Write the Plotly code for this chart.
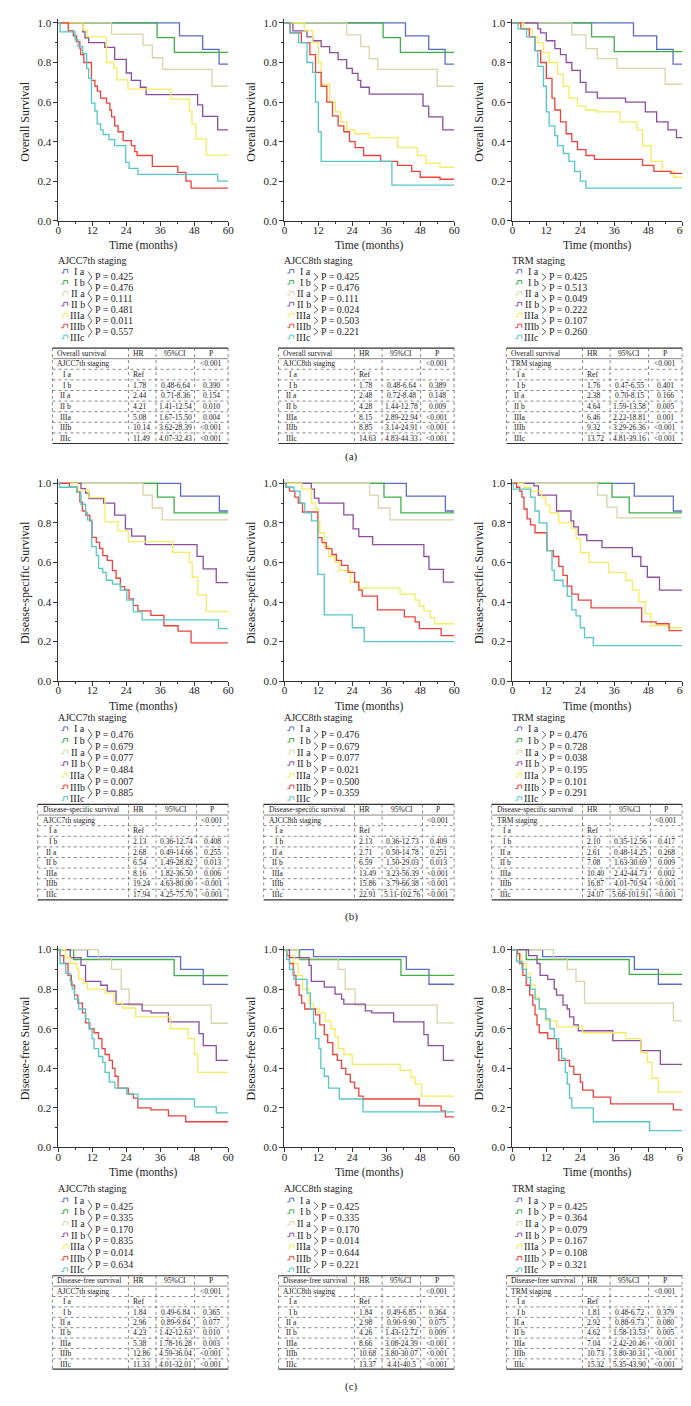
import plotly.graph_objects as go

W, H = 691, 1406
FONT = "Liberation Serif"
TXT = "#222222"

GROUPS = ["I a", "I b", "II a", "II b", "IIIa", "IIIb", "IIIc"]
COLORS = ["#5a6cc4", "#3fae46", "#d9d3a8", "#8b4d9c", "#f4ec5c", "#e8433c", "#55c6c6"]

# ---------------- survival curves: (event times, survival after each step) ----------------
OS_AJCC7 = [
    ([42.8, 51.0, 56.8], [0.935, 0.866, 0.792]),
    ([34.9, 41.0], [0.926, 0.851]),
    ([18.8, 29.9, 33.2, 36.9, 54.3], [0.943, 0.888, 0.824, 0.765, 0.68]),
    ([8.6, 9.4, 10.7, 16.4, 19.9, 24.0, 25.8, 29.0, 31.0, 49.2, 51.0, 56.3],
     [0.955, 0.925, 0.90, 0.876, 0.816, 0.747, 0.71, 0.675, 0.638, 0.586, 0.528, 0.46]),
    ([8.6, 10.2, 17.0, 19.6, 20.7, 24.6, 39.8, 46.3, 47.2, 48.6, 52.2],
     [0.965, 0.93, 0.80, 0.77, 0.712, 0.665, 0.615, 0.556, 0.489, 0.414, 0.332]),
    ([3.5, 5.3, 6.4, 7.6, 7.9, 9.0, 11.7, 12.9, 13.8, 14.9, 17.0, 18.2, 18.8, 19.9, 21.1, 22.9, 25.8, 27.0, 27.8, 33.2, 42.2, 45.1, 46.9],
     [0.96, 0.935, 0.905, 0.87, 0.84, 0.80, 0.71, 0.68, 0.655, 0.62, 0.595, 0.56, 0.525, 0.48, 0.45, 0.405, 0.38, 0.35, 0.33, 0.275, 0.245, 0.20, 0.165]),
    ([0.6, 5.9, 7.0, 8.6, 10.0, 10.7, 11.7, 12.9, 13.7, 14.9, 15.8, 17.9, 19.9, 23.8, 25.0, 28.1, 56.3],
     [0.955, 0.915, 0.88, 0.845, 0.77, 0.72, 0.595, 0.555, 0.49, 0.46, 0.435, 0.41, 0.38, 0.295, 0.265, 0.235, 0.20]),
]

OS_AJCC8 = [
    ([42.8, 51.0, 56.8], [0.935, 0.866, 0.792]),
    ([34.9, 41.0], [0.926, 0.851]),
    ([22.0, 27.0, 30.0, 33.0, 54.0], [0.94, 0.88, 0.82, 0.765, 0.68]),
    ([3.0, 8.0, 10.0, 13.0, 16.0, 19.0, 22.0, 24.0, 26.0, 27.0, 30.0, 49.0, 51.0, 56.0],
     [0.96, 0.93, 0.91, 0.88, 0.85, 0.815, 0.77, 0.745, 0.71, 0.675, 0.64, 0.58, 0.525, 0.46]),
    ([7, 10, 12, 13, 16, 18, 20, 22, 25, 30, 40, 47, 50, 55],
     [0.96, 0.90, 0.80, 0.69, 0.60, 0.55, 0.50, 0.46, 0.44, 0.42, 0.37, 0.33, 0.29, 0.27]),
    ([2, 6, 9, 11, 13, 15, 17, 19, 21, 23, 25, 28, 34, 40, 45, 48, 55],
     [0.95, 0.90, 0.84, 0.75, 0.68, 0.60, 0.53, 0.48, 0.45, 0.40, 0.37, 0.33, 0.30, 0.28, 0.25, 0.22, 0.21]),
    ([2, 5, 8, 10, 11, 12, 13, 38], [0.95, 0.90, 0.80, 0.75, 0.60, 0.45, 0.30, 0.18]),
]

OS_TRM = [
    ([42.8, 51.0, 56.8], [0.935, 0.866, 0.792]),
    ([28, 36], [0.93, 0.855]),
    ([21, 26, 30, 37, 54], [0.94, 0.87, 0.82, 0.77, 0.69]),
    ([9, 10, 12, 15, 17, 19, 21, 24, 26, 30, 40, 47, 51, 55, 58],
     [0.97, 0.95, 0.91, 0.87, 0.84, 0.80, 0.76, 0.70, 0.65, 0.62, 0.60, 0.55, 0.50, 0.46, 0.42]),
    ([4, 7, 9, 11, 13, 16, 18, 20, 23, 26, 30, 38, 44, 46, 49, 53, 57],
     [0.97, 0.93, 0.90, 0.85, 0.80, 0.74, 0.68, 0.62, 0.58, 0.56, 0.55, 0.50, 0.46, 0.38, 0.30, 0.25, 0.22]),
    ([3, 6, 8, 10, 12, 14, 15, 17, 19, 21, 23, 26, 29, 46, 50, 56],
     [0.97, 0.93, 0.86, 0.80, 0.72, 0.62, 0.56, 0.50, 0.44, 0.40, 0.36, 0.33, 0.31, 0.28, 0.25, 0.24]),
    ([2, 5, 8, 9, 11, 12, 13, 15, 16, 18, 20, 22, 24, 26],
     [0.97, 0.93, 0.86, 0.78, 0.68, 0.55, 0.48, 0.43, 0.38, 0.34, 0.30, 0.25, 0.20, 0.165]),
]

DSS_AJCC7 = [
    ([43.2, 56.9], [0.935, 0.86]),
    ([35.0, 40.9], [0.93, 0.85]),
    ([29.9, 33.2, 36.7], [0.94, 0.875, 0.815]),
    ([8.0, 9.6, 10.8, 16.0, 19.9, 23.7, 25.9, 30.7, 49.0, 51.2, 55.8],
     [0.973, 0.95, 0.923, 0.90, 0.839, 0.77, 0.733, 0.69, 0.631, 0.567, 0.498]),
    ([6.8, 10.8, 16.5, 21.1, 24.7, 40.4, 46.3, 47.3, 49.3, 52.3],
     [0.965, 0.928, 0.805, 0.76, 0.705, 0.651, 0.60, 0.525, 0.436, 0.351]),
    ([3.9, 6.5, 7.6, 8.5, 9.7, 11.1, 11.9, 13.4, 14.6, 15.7, 17.3, 19.1, 20.4, 21.9, 23.4, 25.0, 26.5, 28.1, 32.7, 37.3, 42.3, 46.9],
     [0.98, 0.955, 0.905, 0.86, 0.839, 0.81, 0.727, 0.701, 0.671, 0.634, 0.61, 0.559, 0.52, 0.478, 0.461, 0.416, 0.383, 0.355, 0.332, 0.28, 0.253, 0.193]),
    ([0.5, 6.5, 8.0, 9.6, 10.3, 11.8, 13.4, 14.2, 15.7, 16.9, 19.1, 21.9, 24.2, 26.5, 29.6, 56.6],
     [0.98, 0.955, 0.894, 0.85, 0.815, 0.68, 0.635, 0.57, 0.55, 0.51, 0.49, 0.46, 0.41, 0.35, 0.31, 0.265]),
]

DSS_AJCC8 = [
    ([43.1, 56.9], [0.935, 0.86]),
    ([35.2, 41.2], [0.93, 0.85]),
    ([30.1, 33.2, 37.3], [0.94, 0.875, 0.815]),
    ([9.5, 10.6, 12.2, 21.0, 24.3, 26.3, 31.2, 49.3, 51.1, 56.2],
     [0.97, 0.925, 0.90, 0.84, 0.77, 0.73, 0.69, 0.63, 0.565, 0.50]),
    ([6.1, 9.5, 11.0, 11.8, 12.5, 14.1, 15.6, 17.9, 19.4, 23.3, 26.3, 40.9, 46.2, 47.7, 49.3, 51.6, 53.1],
     [0.97, 0.90, 0.87, 0.81, 0.75, 0.68, 0.63, 0.60, 0.56, 0.50, 0.47, 0.44, 0.41, 0.38, 0.355, 0.32, 0.29]),
    ([0.6, 1.8, 3.7, 4.9, 6.4, 11.8, 13.3, 14.8, 16.8, 18.4, 20.2, 22.5, 24.8, 26.3, 27.5, 32.9, 42.4, 46.2, 47.7, 55.4],
     [0.98, 0.96, 0.93, 0.90, 0.855, 0.725, 0.70, 0.67, 0.64, 0.61, 0.585, 0.55, 0.50, 0.46, 0.43, 0.36, 0.325, 0.30, 0.265, 0.23]),
    ([0.6, 3.4, 5.5, 7.2, 9.6, 11.8, 14.1, 24.0, 28.2], [0.98, 0.96, 0.90, 0.85, 0.81, 0.54, 0.335, 0.27, 0.20]),
]

DSS_TRM = [
    ([43.1, 56.9], [0.935, 0.86]),
    ([35.2, 41.3], [0.93, 0.85]),
    ([30.1, 33.4, 37.0], [0.94, 0.88, 0.825]),
    ([7.6, 9.2, 15.6, 20.7, 21.7, 23.3, 26.3, 31.7, 42.4, 45.4, 47.7, 52.0],
     [0.987, 0.94, 0.86, 0.81, 0.78, 0.74, 0.71, 0.675, 0.63, 0.58, 0.525, 0.46]),
    ([4.1, 6.4, 10.3, 11.8, 13.3, 16.4, 21.0, 22.5, 24.0, 27.1, 34.0, 40.1, 42.4, 44.7, 47.0, 49.0, 55.4],
     [0.98, 0.96, 0.93, 0.89, 0.85, 0.80, 0.77, 0.72, 0.65, 0.60, 0.55, 0.51, 0.46, 0.40, 0.34, 0.28, 0.27]),
    ([1.5, 2.6, 3.4, 4.1, 5.2, 6.4, 8.0, 12.2, 14.5, 16.4, 17.9, 19.4, 21.0, 23.3, 27.8, 45.7, 50.8, 55.4],
     [0.98, 0.96, 0.93, 0.87, 0.82, 0.79, 0.75, 0.66, 0.63, 0.58, 0.535, 0.48, 0.44, 0.41, 0.37, 0.30, 0.29, 0.255]),
    ([0.3, 6.4, 8.0, 9.5, 12.2, 14.0, 14.8, 17.9, 19.4, 21.0, 22.5, 24.0, 25.5, 28.6],
     [0.97, 0.93, 0.86, 0.80, 0.66, 0.56, 0.51, 0.48, 0.43, 0.36, 0.33, 0.27, 0.22, 0.18]),
]

DFS_AJCC7 = [
    ([10.3, 43.2, 51.2], [0.965, 0.90, 0.824]),
    ([5.4, 40.9], [0.95, 0.869]),
    ([14.2, 18.8, 22.2, 25.0, 54.0], [0.955, 0.90, 0.80, 0.72, 0.628]),
    ([4.2, 8.0, 9.6, 15.0, 17.3, 20.4, 29.6, 32.7, 38.9, 49.7, 51.2, 55.8],
     [0.96, 0.92, 0.84, 0.82, 0.79, 0.725, 0.69, 0.68, 0.635, 0.575, 0.515, 0.44]),
    ([2.6, 4.2, 6.5, 7.2, 8.8, 10.3, 16.5, 19.6, 22.7, 27.3, 39.6, 45.8, 48.1, 49.3],
     [0.96, 0.93, 0.90, 0.85, 0.83, 0.80, 0.78, 0.73, 0.705, 0.66, 0.60, 0.55, 0.47, 0.38]),
    ([0.6, 1.9, 3.4, 4.6, 5.7, 6.9, 8.5, 9.6, 11.1, 12.6, 14.2, 15.4, 16.5, 18.0, 19.1, 20.0, 21.1, 24.7, 26.5, 28.1, 32.7, 38.9, 45.0],
     [0.97, 0.93, 0.87, 0.82, 0.77, 0.73, 0.68, 0.63, 0.60, 0.58, 0.55, 0.50, 0.47, 0.44, 0.40, 0.36, 0.30, 0.27, 0.25, 0.20, 0.19, 0.16, 0.13]),
    ([0.6, 2.6, 4.2, 4.9, 5.7, 7.2, 9.6, 10.8, 11.9, 12.6, 14.2, 15.7, 16.5, 18.0, 20.0, 24.2, 28.1, 48.1, 55.8],
     [0.93, 0.88, 0.84, 0.80, 0.75, 0.70, 0.65, 0.60, 0.55, 0.50, 0.46, 0.43, 0.38, 0.33, 0.30, 0.27, 0.245, 0.205, 0.175]),
]

DFS_AJCC8 = [
    ([10.3, 43.1, 51.1], [0.965, 0.90, 0.825]),
    ([5.4, 41.2], [0.95, 0.87]),
    ([5.0, 19.0, 21.5, 25.0, 54.0], [0.955, 0.90, 0.80, 0.72, 0.63]),
    ([1.8, 8.7, 9.5, 14.1, 17.9, 20.2, 21.0, 28.6, 30.9, 38.6, 49.3, 50.8, 56.2],
     [0.96, 0.92, 0.84, 0.81, 0.775, 0.75, 0.725, 0.69, 0.68, 0.635, 0.57, 0.515, 0.44]),
    ([1.1, 3.4, 4.9, 6.4, 8.7, 10.3, 12.2, 14.4, 16.4, 17.9, 19.0, 21.0, 24.0, 40.9, 44.7, 46.2, 48.5],
     [0.97, 0.93, 0.87, 0.80, 0.73, 0.70, 0.68, 0.64, 0.60, 0.56, 0.50, 0.47, 0.42, 0.39, 0.355, 0.32, 0.26]),
    ([0.8, 1.8, 3.1, 4.1, 5.2, 6.1, 7.2, 11.0, 12.5, 14.1, 15.3, 17.1, 18.7, 20.2, 21.7, 23.3, 24.8, 26.3, 27.8, 47.7, 55.4, 56.9],
     [0.97, 0.93, 0.87, 0.82, 0.77, 0.73, 0.70, 0.67, 0.62, 0.57, 0.53, 0.47, 0.44, 0.40, 0.37, 0.33, 0.30, 0.26, 0.245, 0.21, 0.185, 0.155]),
    ([0.8, 1.8, 3.4, 8.0, 9.2, 10.3, 11.0, 12.2, 12.9, 14.1, 15.6, 19.4, 27.8],
     [0.95, 0.90, 0.85, 0.78, 0.70, 0.63, 0.55, 0.50, 0.40, 0.36, 0.30, 0.245, 0.18]),
]

DFS_TRM = [
    ([10.7, 43.1, 51.6], [0.965, 0.90, 0.825]),
    ([4.9, 41.3], [0.95, 0.875]),
    ([14.5, 19.4, 22.5, 25.5, 56.9], [0.955, 0.90, 0.84, 0.73, 0.64]),
    ([5.7, 8.7, 9.8, 12.5, 14.8, 15.6, 17.9, 19.4, 20.2, 21.7, 23.3, 35.5, 45.4, 52.3],
     [0.97, 0.93, 0.87, 0.85, 0.80, 0.77, 0.72, 0.70, 0.66, 0.62, 0.59, 0.54, 0.49, 0.42]),
    ([1.8, 3.4, 4.9, 6.4, 8.0, 9.5, 11.8, 15.6, 24.8, 40.1, 45.4, 47.7, 49.3, 51.6],
     [0.97, 0.93, 0.88, 0.82, 0.76, 0.70, 0.64, 0.61, 0.58, 0.55, 0.48, 0.43, 0.35, 0.28]),
    ([1.8, 2.6, 3.7, 4.9, 6.1, 7.2, 8.0, 8.7, 9.5, 12.5, 15.6, 16.4, 20.2, 21.7, 24.0, 24.8, 28.6, 34.7, 56.9],
     [0.98, 0.93, 0.87, 0.82, 0.77, 0.72, 0.67, 0.62, 0.58, 0.55, 0.50, 0.44, 0.41, 0.37, 0.33, 0.29, 0.255, 0.22, 0.19]),
    ([1.5, 3.4, 4.9, 6.4, 8.0, 9.5, 11.8, 13.3, 14.8, 16.4, 17.4, 18.7, 19.4, 20.2, 21.0, 28.6, 48.5],
     [0.94, 0.90, 0.86, 0.80, 0.75, 0.70, 0.65, 0.60, 0.55, 0.50, 0.45, 0.38, 0.32, 0.25, 0.20, 0.13, 0.085]),
]

# ---------------- pairwise log-rank P values ----------------
P_OS_AJCC7 = ["0.425", "0.476", "0.111", "0.481", "0.011", "0.557"]
P_OS_AJCC8 = ["0.425", "0.476", "0.111", "0.024", "0.503", "0.221"]
P_OS_TRM = ["0.425", "0.513", "0.049", "0.222", "0.107", "0.260"]
P_DSS_AJCC7 = ["0.476", "0.679", "0.077", "0.484", "0.007", "0.885"]
P_DSS_AJCC8 = ["0.476", "0.679", "0.077", "0.021", "0.500", "0.359"]
P_DSS_TRM = ["0.476", "0.728", "0.038", "0.195", "0.101", "0.291"]
P_DFS_AJCC7 = ["0.425", "0.335", "0.170", "0.835", "0.014", "0.634"]
P_DFS_AJCC8 = ["0.425", "0.335", "0.170", "0.014", "0.644", "0.221"]
P_DFS_TRM = ["0.425", "0.364", "0.079", "0.167", "0.108", "0.321"]

# ---------------- Cox tables (I b .. IIIc) ----------------
HR_OS_AJCC7 = ["1.78", "2.44", "4.21", "5.08", "10.14", "11.49"]
CI_OS_AJCC7 = ["0.48-6.64", "0.71-8.36", "1.41-12.54", "1.67-15.50", "3.62-28.39", "4.07-32.43"]
PV_OS_AJCC7 = ["0.390", "0.154", "0.010", "0.004", "<0.001", "<0.001"]
HR_OS_AJCC8 = ["1.78", "2.48", "4.28", "8.15", "8.85", "14.63"]
CI_OS_AJCC8 = ["0.48-6.64", "0.72-8.48", "1.44-12.78", "2.89-22.94", "3.14-24.91", "4.83-44.33"]
PV_OS_AJCC8 = ["0.389", "0.148", "0.009", "<0.001", "<0.001", "<0.001"]
HR_OS_TRM = ["1.76", "2.38", "4.64", "6.46", "9.32", "13.72"]
CI_OS_TRM = ["0.47-6.55", "0.70-8.15", "1.59-13.58", "2.22-18.81", "3.29-26.36", "4.81-39.16"]
PV_OS_TRM = ["0.401", "0.166", "0.005", "0.001", "<0.001", "<0.001"]
HR_DSS_AJCC7 = ["2.13", "2.68", "6.54", "8.16", "19.24", "17.94"]
CI_DSS_AJCC7 = ["0.36-12.74", "0.49-14.66", "1.49-28.82", "1.82-36.50", "4.63-80.00", "4.25-75.70"]
PV_DSS_AJCC7 = ["0.408", "0.255", "0.013", "0.006", "<0.001", "<0.001"]
HR_DSS_AJCC8 = ["2.13", "2.71", "6.59", "13.49", "15.86", "22.91"]
CI_DSS_AJCC8 = ["0.36-12.73", "0.50-14.78", "1.50-29.03", "3.23-56.39", "3.79-66.38", "5.11-102.76"]
PV_DSS_AJCC8 = ["0.409", "0.251", "0.013", "<0.001", "<0.001", "<0.001"]
HR_DSS_TRM = ["2.10", "2.61", "7.08", "10.40", "16.87", "24.07"]
CI_DSS_TRM = ["0.35-12.56", "0.48-14.25", "1.63-30.69", "2.42-44.73", "4.01-70.94", "5.68-101.91"]
PV_DSS_TRM = ["0.417", "0.268", "0.009", "0.002", "<0.001", "<0.001"]
HR_DFS_AJCC7 = ["1.84", "2.96", "4.23", "5.38", "12.86", "11.33"]
CI_DFS_AJCC7 = ["0.49-6.84", "0.89-9.84", "1.42-12.63", "1.78-16.28", "4.59-36.04", "4.01-32.01"]
PV_DFS_AJCC7 = ["0.365", "0.077", "0.010", "0.003", "<0.001", "<0.001"]
HR_DFS_AJCC8 = ["1.84", "2.98", "4.26", "8.66", "10.68", "13.37"]
CI_DFS_AJCC8 = ["0.49-6.85", "0.90-9.90", "1.43-12.72", "3.08-24.39", "3.80-30.07", "4.41-40.5"]
PV_DFS_AJCC8 = ["0.364", "0.075", "0.009", "<0.001", "<0.001", "<0.001"]
HR_DFS_TRM = ["1.81", "2.92", "4.62", "7.04", "10.73", "15.32"]
CI_DFS_TRM = ["0.48-6.72", "0.88-9.73", "1.58-13.53", "2.42-20.46", "3.80-30.31", "5.35-43.90"]
PV_DFS_TRM = ["0.379", "0.080", "0.005", "<0.001", "<0.001", "<0.001"]

STAGINGS = ["AJCC7th staging", "AJCC8th staging", "TRM staging"]
OUTCOMES = ["Overall survival", "Disease-specific survival", "Disease-free survival"]
YTITLES = ["Overall Survival", "Disease-specific Survival", "Disease-free Survival"]
PANEL_LABELS = ["(a)", "(b)", "(c)"]

PANELS = [
    (OS_AJCC7, P_OS_AJCC7, HR_OS_AJCC7, CI_OS_AJCC7, PV_OS_AJCC7),
    (OS_AJCC8, P_OS_AJCC8, HR_OS_AJCC8, CI_OS_AJCC8, PV_OS_AJCC8),
    (OS_TRM, P_OS_TRM, HR_OS_TRM, CI_OS_TRM, PV_OS_TRM),
    (DSS_AJCC7, P_DSS_AJCC7, HR_DSS_AJCC7, CI_DSS_AJCC7, PV_DSS_AJCC7),
    (DSS_AJCC8, P_DSS_AJCC8, HR_DSS_AJCC8, CI_DSS_AJCC8, PV_DSS_AJCC8),
    (DSS_TRM, P_DSS_TRM, HR_DSS_TRM, CI_DSS_TRM, PV_DSS_TRM),
    (DFS_AJCC7, P_DFS_AJCC7, HR_DFS_AJCC7, CI_DFS_AJCC7, PV_DFS_AJCC7),
    (DFS_AJCC8, P_DFS_AJCC8, HR_DFS_AJCC8, CI_DFS_AJCC8, PV_DFS_AJCC8),
    (DFS_TRM, P_DFS_TRM, HR_DFS_TRM, CI_DFS_TRM, PV_DFS_TRM),
]

# ---------------- layout geometry (pixels) ----------------
COL_LEFT = [48, 277, 508]
PLOT_W = 172
ROW_TOP = [13, 476, 945]
PLOT_H = 199
YMAX = 1.02
LEG_TITLE_Y = [252, 712, 1185]
LEG_Y0 = [263, 723, 1197]
LEG_DY = [11.0, 11.7, 11.7]
TAB_TOP = [340, 799, 1273]
TAB_BOT = [436, 895, 1367]
TAB_LEFT_OFF = [-6, -21, -6]
TAB_PSEP_OFF = [138, 140, 138]
PANEL_LABEL_Y = [449, 912, 1384]
TAB_FONT = 7.6


def X(px):
    return px / W


def Y(py):
    return 1 - py / H


fig = go.Figure()
annotations = []
shapes = []
layout_axes = {}


def ann(text, px, py, size=10, xanchor="left", angle=0, color=TXT):
    annotations.append(dict(text=text, x=X(px), y=Y(py), xref="paper", yref="paper",
                            showarrow=False, xanchor=xanchor, yanchor="middle",
                            textangle=angle, font=dict(family=FONT, size=size, color=color)))


def line(x0, y0, x1, y1, dash="solid", width=0.8, color="#333333"):
    shapes.append(dict(type="line", xref="paper", yref="paper", x0=X(x0), y0=Y(y0), x1=X(x1), y1=Y(y1),
                       line=dict(color=color, width=width, dash=dash)))


def path(pts, color, width=1.0):
    d = "M " + " L ".join(f"{X(a):.5f},{Y(b):.5f}" for a, b in pts)
    shapes.append(dict(type="path", xref="paper", yref="paper", path=d,
                       line=dict(color=color, width=width)))


for idx, (curves, pairp, hrs, cis, pvs) in enumerate(PANELS):
    r, c = divmod(idx, 3)
    n = idx + 1
    xa = "x" if n == 1 else f"x{n}"
    ya = "y" if n == 1 else f"y{n}"
    L = COL_LEFT[c]
    top = ROW_TOP[r]
    bot = top + PLOT_H

    for g, (t, s) in enumerate(curves):
        xs = [0] + list(t) + [60]
        ys = [1.0] + list(s) + [s[-1]]
        fig.add_trace(go.Scatter(x=xs, y=ys, mode="lines", xaxis=xa, yaxis=ya,
                                 line=dict(color=COLORS[g], width=1.3, shape="hv"),
                                 showlegend=False, hoverinfo="skip"))

    tickfont = dict(family=FONT, size=11, color=TXT)
    layout_axes["xaxis" if n == 1 else f"xaxis{n}"] = dict(
        domain=[X(L), X(L + PLOT_W)], range=[0, 60], anchor=ya,
        tickmode="linear", tick0=0, dtick=12, ticks="outside", ticklen=4, tickwidth=1, tickcolor="#333",
        ticklabelstandoff=-5,
        minor=dict(tick0=0, dtick=6, ticks="outside", ticklen=2, tickwidth=1, tickcolor="#333"),
        showline=True, linecolor="#333", linewidth=1, showgrid=False, zeroline=False,
        tickfont=tickfont, fixedrange=True)
    layout_axes["yaxis" if n == 1 else f"yaxis{n}"] = dict(
        domain=[Y(bot), Y(bot - PLOT_H * YMAX)], range=[0, YMAX], anchor=xa,
        tickmode="array", tickvals=[0, 0.2, 0.4, 0.6, 0.8, 1.0],
        ticktext=["0.0", "0.2", "0.4", "0.6", "0.8", "1.0"],
        ticks="outside", ticklen=4, tickwidth=1, tickcolor="#333",
        minor=dict(tickmode="array", tickvals=[0.1, 0.3, 0.5, 0.7, 0.9], ticks="outside", ticklen=2,
                   tickwidth=1, tickcolor="#333"),
        showline=True, linecolor="#333", linewidth=1, showgrid=False, zeroline=False,
        tickfont=tickfont, fixedrange=True)

    # axis titles
    ann("Time (months)", L + PLOT_W / 2, bot + 25, size=11.5, xanchor="center")
    ann(YTITLES[r], L - 34, top + PLOT_H / 2, size=12, xanchor="center", angle=-90)

    # legend with pairwise P values
    ann(STAGINGS[c], L - 2, LEG_TITLE_Y[r], size=10)
    ys_leg = [LEG_Y0[r] + k * LEG_DY[r] for k in range(7)]
    for g, yy in enumerate(ys_leg):
        x0 = L + 3
        path([(x0, yy + 1.5), (x0 + 2.5, yy + 1.5), (x0 + 2.5, yy - 2), (x0 + 6.5, yy - 2), (x0 + 6.5, yy + 1.5)],
             COLORS[g], 1.0)
        ann(GROUPS[g], L + 29, yy, size=10, xanchor="right")
    for k in range(6):
        y1, y2 = ys_leg[k], ys_leg[k + 1]
        mid = (y1 + y2) / 2
        if c == 0:
            path([(L + 30, y1), (L + 34, mid), (L + 30, y2)], "#333333", 0.8)
        else:
            path([(L + 30, y1 + 2), (L + 34, mid), (L + 30, y2 - 2)], "#333333", 0.8)
        ann(f"P = {pairp[k]}", L + 35.5, mid, size=10)

    # Cox table
    tl = L + TAB_LEFT_OFF[r]
    hrsep = L + 71
    cisep = L + 99
    psep = L + TAB_PSEP_OFF[r]
    tr = L + PLOT_W
    T, B = TAB_TOP[r], TAB_BOT[r]
    nrow = 9
    h = (B - T) / nrow
    rows = [[OUTCOMES[r], "HR", "95%CI", "P"], [STAGINGS[c], "", "", "<0.001"], ["I a", "Ref", "", ""]]
    for k in range(6):
        rows.append([GROUPS[k + 1], hrs[k], cis[k], pvs[k]])
    for i in range(nrow + 1):
        yy = T + i * h
        if i == 0 or i == nrow:
            line(tl, yy, tr, yy, "solid", 1.2, "#333333")
        elif i == 1:
            line(tl, yy, tr, yy, "solid", 0.7, "#555555")
        else:
            line(tl, yy, tr, yy, "dot", 0.7, "#555555")
    for xx in (tl, hrsep, cisep, psep, tr):
        line(xx, T, xx, B, "dot", 0.7, "#555555")
    for i, row in enumerate(rows):
        yc = T + (i + 0.5) * h
        lab = row[0]
        if i < 2:
            lx = tl + 3
        elif lab in ("I a", "I b"):
            lx = tl + 9
        else:
            lx = tl + 6
        ann(lab, lx, yc, size=TAB_FONT)
        if row[1]:
            ann(row[1], hrsep + 3, yc, size=TAB_FONT)
        if row[2]:
            ann(row[2], (cisep + psep) / 2, yc, size=TAB_FONT, xanchor="center")
        if row[3]:
            ann(row[3], (psep + tr) / 2, yc, size=TAB_FONT, xanchor="center")

for r in range(3):
    ann(PANEL_LABELS[r], 345, PANEL_LABEL_Y[r], size=11, xanchor="center")

fig.update_layout(width=W, height=H, autosize=False, margin=dict(l=0, r=0, t=0, b=0),
                  paper_bgcolor="white", plot_bgcolor="white", showlegend=False,
                  annotations=annotations, shapes=shapes, **layout_axes)

fig.write_html("out.html")
